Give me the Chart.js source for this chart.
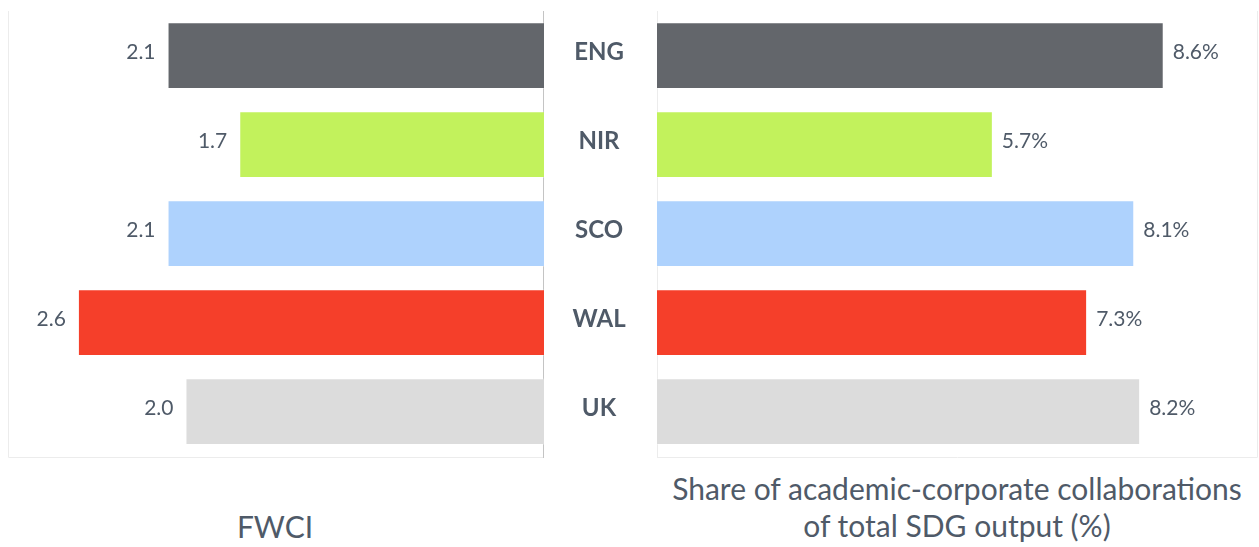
<!DOCTYPE html>
<html>
<head>
<meta charset="utf-8">
<script src="https://cdn.jsdelivr.net/npm/chart.js@4/dist/chart.umd.min.js"></script>
<style>
  body { margin: 0; background: #fff; font-family: Lato, sans-serif; }
  #wrap { position: relative; width: 1259px; height: 547px; overflow: hidden; }
  .box { position: absolute; }
  .title { position: absolute; color: #4f5a68; font-size: 30px; text-align: center; line-height: 37px; }
</style>
</head>
<body>
<div id="wrap">
  <div class="box" style="left:8px; top:11px; width:536px; height:447px;"><canvas id="left"></canvas></div>
  <div class="box" style="left:543px; top:11px; width:716px; height:447px;"><canvas id="right"></canvas></div>
  <div class="title" style="left:0; width:550px; top:508px;">FWCI</div>
  <div class="title" style="left:640px; width:634px; top:470px;">Share of academic-corporate collaborations<br>of total SDG output (%)</div>
</div>
<script>
const categories = ["ENG", "NIR", "SCO", "WAL", "UK"];
const fwci = [2.1, 1.7, 2.1, 2.6, 2.0];
const collabShare = [8.6, 5.7, 8.1, 7.3, 8.2];
const barColors = ["#63666b", "#c2f25c", "#aed2fd", "#f53f2a", "#dcdcdc"];

const textColor = "#4f5a68";

// writes the value next to the end of each bar
const valueLabels = {
  id: "valueLabels",
  afterDatasetsDraw(chart, args, opts) {
    const ctx = chart.ctx;
    const meta = chart.getDatasetMeta(0);
    ctx.save();
    ctx.font = "21px Lato";
    ctx.fillStyle = textColor;
    ctx.textBaseline = "middle";
    ctx.textAlign = opts.side === "left" ? "right" : "left";
    meta.data.forEach((bar, i) => {
      const v = chart.data.datasets[0].data[i];
      const x = opts.side === "left" ? bar.x - 12 : bar.x + 9;
      ctx.fillText(v.toFixed(1) + (opts.suffix || ""), x, bar.y - 3);
    });
    ctx.restore();
  }
};

// category names in the gap between the two charts
const categoryLabels = {
  id: "categoryLabels",
  afterDatasetsDraw(chart, args, opts) {
    if (!opts.show) return;
    const ctx = chart.ctx;
    const meta = chart.getDatasetMeta(0);
    ctx.save();
    ctx.font = "bold 24px Lato";
    ctx.fillStyle = textColor;
    ctx.textBaseline = "middle";
    ctx.textAlign = "center";
    meta.data.forEach((bar, i) => {
      ctx.fillText(chart.data.labels[i], chart.chartArea.left - 58, bar.y - 3);
    });
    ctx.restore();
  }
};

// faint frame lines around the plot
const frame = {
  id: "frame",
  beforeDraw(chart, args, opts) {
    const { ctx, chartArea: a } = chart;
    ctx.save();
    ctx.lineWidth = 1;
    ctx.strokeStyle = "#ececec";
    ctx.beginPath();
    ctx.moveTo(a.left + 0.5, a.top);
    ctx.lineTo(a.left + 0.5, a.bottom + 1.5);
    ctx.lineTo(a.right - 0.5, a.bottom + 1.5);
    ctx.lineTo(a.right - 0.5, a.top);
    ctx.stroke();
    ctx.strokeStyle = opts.axisColor;
    const x = opts.side === "left" ? a.right - 0.5 : a.left + 0.5;
    ctx.beginPath();
    ctx.moveTo(x, a.top);
    ctx.lineTo(x, a.bottom + 2);
    ctx.stroke();
    ctx.restore();
  }
};

new Chart(document.getElementById("left"), {
  type: "bar",
  data: {
    labels: categories,
    datasets: [{
      data: fwci,
      backgroundColor: barColors,
      borderColor: "rgba(255,255,255,0.25)",
      borderWidth: 1,
      categoryPercentage: 1,
      barPercentage: 0.75
    }]
  },
  options: {
    indexAxis: "y",
    responsive: true,
    maintainAspectRatio: false,
    animation: false,
    layout: { padding: { top: 0, bottom: 2, left: 0, right: 0 } },
    scales: {
      x: { display: false, reverse: true, min: 0, max: 2.99 },
      y: { display: false }
    },
    plugins: {
      legend: { display: false },
      tooltip: { enabled: false },
      valueLabels: { side: "left" },
      categoryLabels: { show: false },
      frame: { side: "left", axisColor: "#c4c4c4" }
    }
  },
  plugins: [frame, valueLabels, categoryLabels]
});

new Chart(document.getElementById("right"), {
  type: "bar",
  data: {
    labels: categories,
    datasets: [{
      data: collabShare,
      backgroundColor: barColors,
      borderColor: "rgba(255,255,255,0.25)",
      borderWidth: 1,
      categoryPercentage: 1,
      barPercentage: 0.75
    }]
  },
  options: {
    indexAxis: "y",
    responsive: true,
    maintainAspectRatio: false,
    animation: false,
    layout: { padding: { top: 0, bottom: 2, left: 114, right: 1 } },
    scales: {
      x: { display: false, min: 0, max: 10.2 },
      y: { display: false }
    },
    plugins: {
      legend: { display: false },
      tooltip: { enabled: false },
      valueLabels: { side: "right", suffix: "%" },
      categoryLabels: { show: true },
      frame: { side: "right", axisColor: "#ececec" }
    }
  },
  plugins: [frame, valueLabels, categoryLabels]
});
</script>
</body>
</html>
